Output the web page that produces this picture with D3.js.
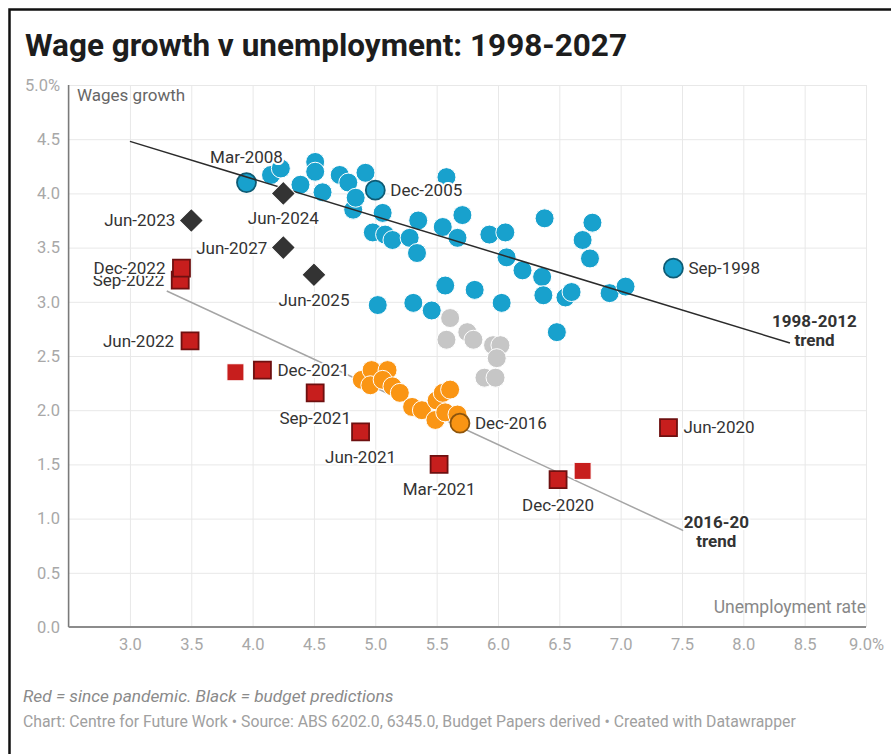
<!DOCTYPE html>
<html>
<head>
<meta charset="utf-8">
<script src="https://cdn.jsdelivr.net/npm/d3@7"></script>
<style>
  html, body { margin: 0; padding: 0; background: #fff; }
  svg { display: block; font-family: Roboto, "Noto Sans", "DejaVu Sans", sans-serif; }
</style>
</head>
<body>
<svg id="chart" width="891" height="754"></svg>
<script>
// Each point: [unemployment rate %, wage growth %]
const wages1998to2012 = [
  [3.95, 4.10], [4.15, 4.17], [4.23, 4.23], [4.39, 4.08], [4.51, 4.29], [4.51, 4.20],
  [4.57, 4.01], [4.71, 4.17], [4.78, 4.10], [4.92, 4.19], [5.00, 4.03], [4.82, 3.85],
  [4.84, 3.96], [5.06, 3.82], [4.98, 3.64], [5.08, 3.62], [5.14, 3.57], [5.35, 3.75],
  [5.28, 3.59], [5.34, 3.45], [5.55, 3.69], [5.58, 4.15], [5.71, 3.80], [5.67, 3.59],
  [5.93, 3.62], [6.06, 3.64], [6.38, 3.77], [6.77, 3.73], [6.69, 3.57], [6.75, 3.40],
  [6.07, 3.41], [6.20, 3.29], [6.36, 3.23], [5.57, 3.15], [5.81, 3.11], [6.03, 2.99],
  [6.37, 3.06], [6.55, 3.04], [6.60, 3.09], [6.91, 3.08], [7.04, 3.14], [6.48, 2.72],
  [7.43, 3.31], [5.02, 2.97], [5.31, 2.99], [5.46, 2.92]
];
const wages2012to2016 = [
  [5.61, 2.85], [5.58, 2.65], [5.75, 2.72], [5.80, 2.65], [5.96, 2.60],
  [6.02, 2.60], [5.99, 2.48], [5.89, 2.30], [5.98, 2.30]
];
const wages2016to2020 = [
  [4.89, 2.28], [4.97, 2.37], [5.10, 2.37], [4.96, 2.23], [5.06, 2.28], [5.14, 2.22],
  [5.20, 2.16], [5.30, 2.03], [5.38, 2.00], [5.50, 2.09], [5.55, 2.16], [5.61, 2.19],
  [5.49, 1.91], [5.57, 1.98], [5.67, 1.96], [5.69, 1.88]
];
// Quarters since the pandemic: [quarter, unemployment, wage growth]
const sincePandemic = [
  ["Jun-2020", 7.39, 1.84], ["Sep-2020", 6.69, 1.44], ["Dec-2020", 6.49, 1.36],
  ["Mar-2021", 5.52, 1.50], ["Jun-2021", 4.88, 1.80], ["Sep-2021", 4.51, 2.16],
  ["Dec-2021", 4.08, 2.37], ["Mar-2022", 3.86, 2.35], ["Jun-2022", 3.49, 2.64],
  ["Sep-2022", 3.41, 3.20], ["Dec-2022", 3.42, 3.31]
];
// Budget forecasts: [year, unemployment, wage growth]
const budgetPredictions = [
  ["Jun-2023", 3.50, 3.75], ["Jun-2024", 4.25, 4.00],
  ["Jun-2025", 4.50, 3.25], ["Jun-2027", 4.25, 3.50]
];
// Named historical quarters: [quarter, unemployment, wage growth]
const namedQuarters1998to2012 = [["Mar-2008", 3.95, 4.10], ["Dec-2005", 5.00, 4.03], ["Sep-1998", 7.43, 3.31]];
const namedQuarters2016to2020 = [["Dec-2016", 5.69, 1.88]];

// Fitted trend lines: [[x1, y1], [x2, y2]]
const trend1998to2012 = [[3.0, 4.48], [8.38, 2.62]];
const trend2016to2020 = [[3.30, 3.10], [7.51, 0.89]];

const xTicks = [3.0, 3.5, 4.0, 4.5, 5.0, 5.5, 6.0, 6.5, 7.0, 7.5, 8.0, 8.5, 9.0];
const xTickLabels = ["3.0", "3.5", "4.0", "4.5", "5.0", "5.5", "6.0", "6.5", "7.0", "7.5", "8.0", "8.5", "9.0%"];
const yTicks = [0, 0.5, 1.0, 1.5, 2.0, 2.5, 3.0, 3.5, 4.0, 4.5, 5.0];
const yTickLabels = ["0.0", "0.5", "1.0", "1.5", "2.0", "2.5", "3.0", "3.5", "4.0", "4.5", "5.0%"];

// ---- drawing ----
const svg = d3.select("#chart");
const x = d3.scaleLinear().domain([2.5, 9.0]).range([68.6, 866]);
const y = d3.scaleLinear().domain([0, 5]).range([627, 85]);

const colors = {
  blue: "#18a1cd", grey: "#c6c6c6", orange: "#fa9514",
  red: "#c71e1d", black: "#333333"
};
const labelSize = 17;

// outer frame (top and left edges)
svg.append("path")
  .attr("d", "M9.5,754V9.5H891")
  .attr("fill", "none").attr("stroke", "#111").attr("stroke-width", 2.5);

// title
svg.append("text")
  .attr("x", 25).attr("y", 56)
  .attr("font-size", 31.5).attr("font-weight", 700).attr("fill", "#1d1d1d")
  .text("Wage growth v unemployment: 1998-2027");

// gridlines
const plotW = x(9) - x(2.5), plotH = y(0) - y(5);
const gridH = svg.append("g")
  .attr("transform", `translate(${x(2.5)},0)`)
  .call(d3.axisLeft(y).tickValues(yTicks.slice(1)).tickSize(-plotW).tickFormat(""));
const gridV = svg.append("g")
  .attr("transform", `translate(0,${y(0)})`)
  .call(d3.axisBottom(x).tickValues(xTicks).tickSize(-plotH).tickFormat(""));
[gridH, gridV].forEach(g => {
  g.select(".domain").remove();
  g.selectAll(".tick line").attr("stroke", "#e8e8e8").attr("stroke-width", 1);
});

// tick labels
const yAxis = svg.append("g")
  .attr("transform", "translate(60,0)")
  .call(d3.axisLeft(y).tickValues(yTicks).tickFormat((d, i) => yTickLabels[i]).tickSize(0).tickPadding(0));
const xAxis = svg.append("g")
  .attr("transform", "translate(0,638)")
  .call(d3.axisBottom(x).tickValues(xTicks).tickFormat((d, i) => xTickLabels[i]).tickSize(0).tickPadding(0));
[yAxis, xAxis].forEach(g => {
  g.select(".domain").remove();
  g.selectAll("text")
    .attr("font-family", "Roboto, sans-serif")
    .attr("font-size", 16.5).attr("fill", "#a8a8a8");
});

// axis lines
svg.append("line")
  .attr("x1", x(2.5)).attr("x2", x(2.5)).attr("y1", y(5)).attr("y2", y(0))
  .attr("stroke", "#7a7a7a").attr("stroke-width", 1.6);
svg.append("line")
  .attr("x1", x(2.5)).attr("x2", x(9)).attr("y1", y(0)).attr("y2", y(0))
  .attr("stroke", "#8c8c8c").attr("stroke-width", 2);

// axis titles
svg.append("text")
  .attr("x", 77).attr("y", 101)
  .attr("font-size", labelSize).attr("fill", "#666")
  .text("Wages growth");
svg.append("text")
  .attr("x", x(9)).attr("y", 613).attr("text-anchor", "end")
  .attr("font-size", 17.5).attr("fill", "#888")
  .text("Unemployment rate");

const line = d3.line().x(d => x(d[0])).y(d => y(d[1]));

// 2016-20 trend sits beneath the points
svg.append("path")
  .datum(trend2016to2020)
  .attr("d", line)
  .attr("fill", "none").attr("stroke", "#a5a5a5").attr("stroke-width", 1.5);

// circles
function drawCircles(data, fill) {
  svg.append("g").selectAll("circle")
    .data(data).join("circle")
    .attr("cx", d => x(d[0])).attr("cy", d => y(d[1]))
    .attr("r", 9.5)
    .attr("fill", fill).attr("stroke", "#fff").attr("stroke-width", 1);
}
drawCircles(wages1998to2012, colors.blue);
drawCircles(wages2012to2016, colors.grey);
drawCircles(wages2016to2020, colors.orange);

// highlighted circles get a darker outline
function drawNamedCircles(data, fill) {
  svg.append("g").selectAll("circle")
    .data(data).join("circle")
    .attr("cx", d => x(d[1])).attr("cy", d => y(d[2]))
    .attr("r", 9.5)
    .attr("fill", fill)
    .attr("stroke", d3.color(fill).darker(1.6)).attr("stroke-width", 1.8);
}
drawNamedCircles(namedQuarters1998to2012, colors.blue);
drawNamedCircles(namedQuarters2016to2020, colors.orange);

// red squares since the pandemic
const labelledRed = new Set(["Jun-2020", "Dec-2020", "Mar-2021", "Jun-2021", "Sep-2021",
  "Dec-2021", "Jun-2022", "Sep-2022", "Dec-2022"]);
svg.append("g").selectAll("path")
  .data(sincePandemic).join("path")
  .attr("transform", d => `translate(${x(d[1])},${y(d[2])})`)
  .attr("d", d3.symbol(d3.symbolSquare, 17 * 17))
  .attr("fill", colors.red)
  .attr("stroke", d => labelledRed.has(d[0]) ? "#6e1010" : "#fff")
  .attr("stroke-width", d => labelledRed.has(d[0]) ? 1.8 : 1);

// 1998-2012 trend drawn over the blue points
svg.append("path")
  .datum(trend1998to2012)
  .attr("d", line)
  .attr("fill", "none").attr("stroke", "#2b2b2b").attr("stroke-width", 1.5);

// black diamonds for budget predictions
svg.append("g").selectAll("path")
  .data(budgetPredictions).join("path")
  .attr("transform", d => `translate(${x(d[1])},${y(d[2])}) rotate(45)`)
  .attr("d", d3.symbol(d3.symbolSquare, 17 * 17))
  .attr("fill", colors.black).attr("stroke", "#fff").attr("stroke-width", 1);

// point labels: side of the mark each label sits on
const labelSide = {
  "Mar-2008": "top", "Dec-2005": "right", "Sep-1998": "right", "Dec-2016": "right",
  "Jun-2023": "left", "Jun-2024": "bottom", "Jun-2027": "left", "Jun-2025": "bottom",
  "Sep-2022": "left", "Dec-2022": "left", "Jun-2022": "left", "Dec-2021": "right",
  "Sep-2021": "bottom", "Jun-2021": "bottom", "Mar-2021": "bottom", "Dec-2020": "bottom",
  "Jun-2020": "right"
};
const labelled = [
  ...namedQuarters1998to2012, ...namedQuarters2016to2020,
  ...budgetPredictions,
  ...sincePandemic.filter(d => labelledRed.has(d[0]))
];
const gap = 15;
svg.append("g").selectAll("text")
  .data(labelled.filter(d => labelSide[d[0]]))
  .join("text")
  .attr("x", d => {
    const s = labelSide[d[0]], px = x(d[1]);
    return s === "right" ? px + gap : s === "left" ? px - gap - 1 : px;
  })
  .attr("y", d => {
    const s = labelSide[d[0]], py = y(d[2]);
    return s === "top" ? py - 26 : s === "bottom" ? py + 25 : py;
  })
  .attr("dy", "0.35em")
  .attr("text-anchor", d => {
    const s = labelSide[d[0]];
    return s === "right" ? "start" : s === "left" ? "end" : "middle";
  })
  .attr("font-size", labelSize).attr("fill", "#333")
  .attr("stroke", "#fff").attr("stroke-width", 4).attr("stroke-linejoin", "round")
  .attr("paint-order", "stroke")
  .text(d => d[0]);

// trend annotations
function trendNote(cx, lines, topY) {
  const t = svg.append("text")
    .attr("text-anchor", "middle").attr("font-size", labelSize).attr("font-weight", 700)
    .attr("fill", "#333").attr("stroke", "#fff").attr("stroke-width", 4)
    .attr("stroke-linejoin", "round").attr("paint-order", "stroke");
  lines.forEach((s, i) => {
    t.append("tspan").attr("x", x(cx)).attr("y", y(topY)).attr("dy", (i * 1.1 + 0.35) + "em").text(s);
  });
}
trendNote(8.58, ["1998-2012", "trend"], 2.82);
trendNote(7.78, ["2016-20", "trend"], 0.97);

// footer
svg.append("text")
  .attr("x", 23).attr("y", 702)
  .attr("font-size", 17.3).attr("font-style", "italic").attr("fill", "#8a8a8a")
  .text("Red = since pandemic. Black = budget predictions");
svg.append("text")
  .attr("x", 23).attr("y", 727)
  .attr("font-size", 15.8).attr("fill", "#a0a0a0")
  .text("Chart: Centre for Future Work • Source: ABS 6202.0, 6345.0, Budget Papers derived • Created with Datawrapper");
</script>
</body>
</html>
